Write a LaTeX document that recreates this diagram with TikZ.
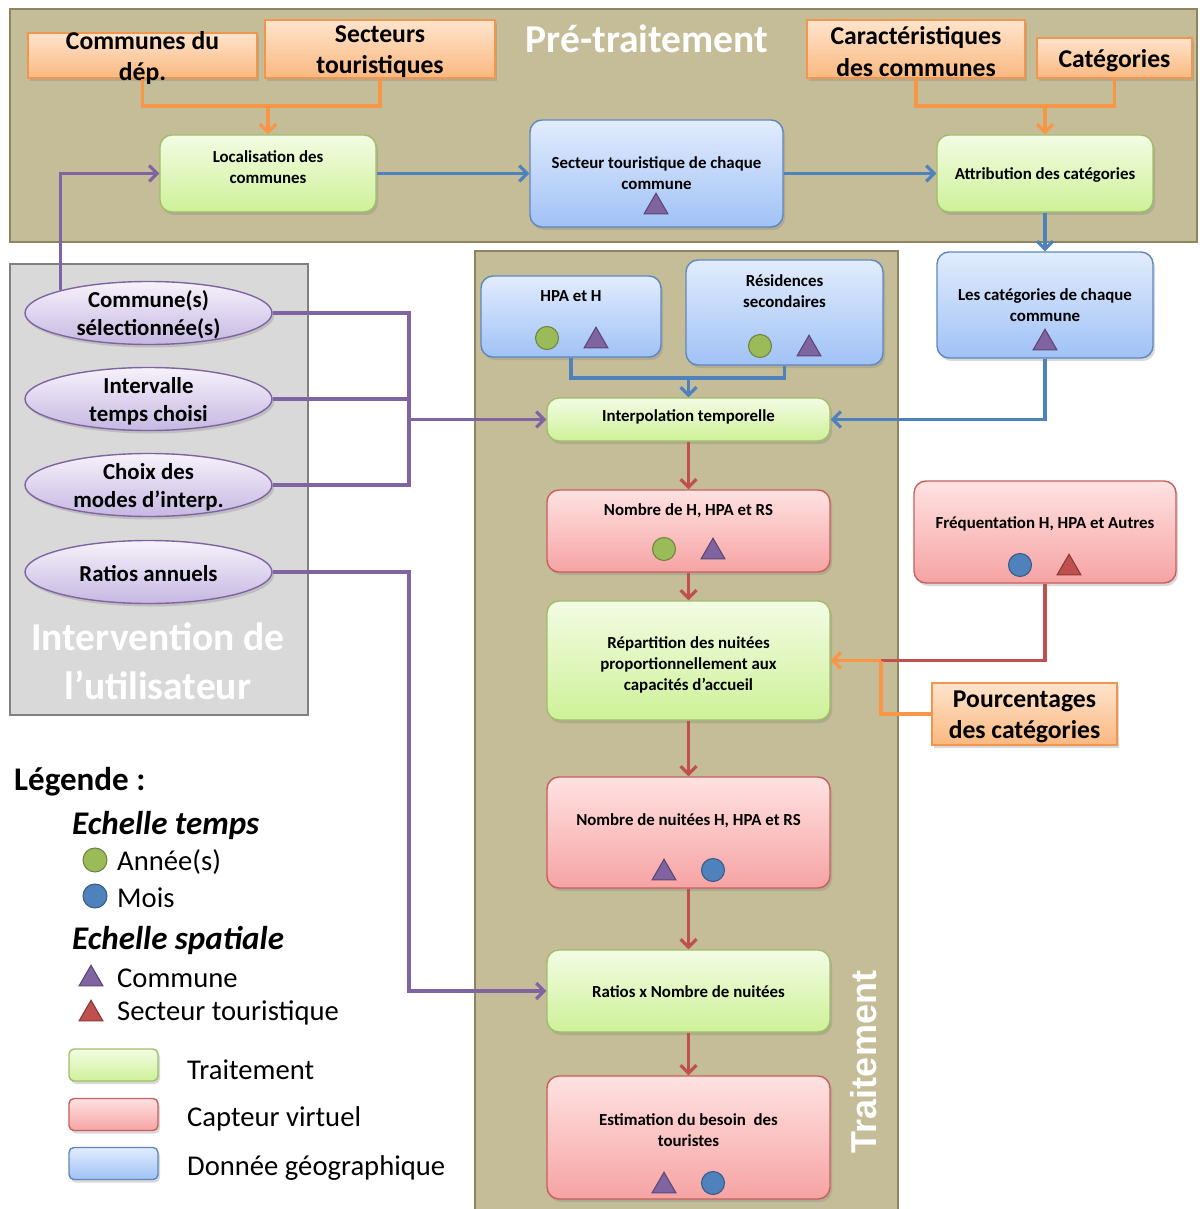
\documentclass[tikz,border=0pt]{standalone}
\usepackage{fontspec}
\setmainfont{Carlito}
\newfontfamily\headfont{Liberation Sans}
\usepackage{xcolor}
\usepackage{tikz}
\usetikzlibrary{shapes,arrows.meta,positioning,calc,shadows,shapes.geometric}

\definecolor{tanbg}{RGB}{196,189,151}
\definecolor{tanline}{RGB}{140,133,96}
\definecolor{greybg}{RGB}{217,217,217}
\definecolor{greyline}{RGB}{128,128,128}
\definecolor{grntop}{RGB}{243,252,228}
\definecolor{grnbot}{RGB}{206,241,152}
\definecolor{grnline}{RGB}{160,190,105}
\definecolor{blutop}{RGB}{226,236,253}
\definecolor{blubot}{RGB}{160,194,246}
\definecolor{bluline}{RGB}{95,135,190}
\definecolor{redtop}{RGB}{255,226,226}
\definecolor{redbot}{RGB}{246,163,163}
\definecolor{redline}{RGB}{200,95,92}
\definecolor{orgtop}{RGB}{255,228,204}
\definecolor{orgbot}{RGB}{250,184,128}
\definecolor{orgline}{RGB}{240,150,80}
\definecolor{purtop}{RGB}{246,242,251}
\definecolor{purbot}{RGB}{198,184,226}
\definecolor{purline}{RGB}{128,100,162}
\definecolor{arrblue}{RGB}{79,129,189}
\definecolor{arrred}{RGB}{192,80,77}
\definecolor{arrpur}{RGB}{128,100,162}
\definecolor{arrorg}{RGB}{247,150,70}
\definecolor{mkgreen}{RGB}{155,187,89}
\definecolor{mkblue}{RGB}{79,129,189}

\begin{document}
\begin{tikzpicture}[x=0.02cm, y=-0.02cm, >={Straight Barb[length=4.5pt,width=9pt]}]
  % Styles
  \tikzset{sz/.style args={#1/#2}{minimum width=#1*0.02cm, minimum height=#2*0.02cm}}
  \tikzstyle{shade} = [drop shadow={opacity=0.3, shadow xshift=0.04cm, shadow yshift=-0.06cm}]
  \tikzstyle{gbox} = [rectangle, rounded corners=0.24cm, draw=grnline, line width=0.8pt, top color=grntop, bottom color=grnbot, shade]
  \tikzstyle{bbox} = [rectangle, rounded corners=0.24cm, draw=bluline, line width=0.8pt, top color=blutop, bottom color=blubot, shade]
  \tikzstyle{rbox} = [rectangle, rounded corners=0.24cm, draw=redline, line width=0.8pt, top color=redtop, bottom color=redbot, shade]
  \tikzstyle{obox} = [rectangle, draw=orgline, line width=0.8pt, top color=orgtop, bottom color=orgbot, shade]
  \tikzstyle{uell} = [ellipse, draw=purline, line width=0.8pt, top color=purtop, bottom color=purbot, shade]
  \tikzstyle{stxt} = [font=\bfseries\fontsize{9.6}{12}\selectfont, align=center]
  \tikzstyle{btxt} = [font=\bfseries\fontsize{14.6}{17.8}\selectfont, align=center, yshift=-0.05cm]
  \tikzstyle{etxt} = [font=\bfseries\fontsize{13}{16}\selectfont, align=center, yshift=-0.04cm]
  \tikzstyle{title} = [font=\bfseries\fontsize{22.5}{27.8}\selectfont, text=white, align=center]
  \tikzstyle{lgtxt} = [font=\fontsize{16.3}{19}\selectfont, anchor=west]
  \tikzstyle{lghead} = [font=\bfseries\itshape\fontsize{18.8}{22}\selectfont, anchor=west]
  \tikzstyle{yr} = [circle, draw=mkgreen!70!black, fill=mkgreen, minimum size=0.46cm, inner sep=0pt, line width=0.6pt]
  \tikzstyle{mo} = [circle, draw=mkblue!70!black, fill=mkblue, minimum size=0.46cm, inner sep=0pt, line width=0.6pt]
  \tikzstyle{com} = [regular polygon, regular polygon sides=3, draw=arrpur!70!black, fill=arrpur, minimum size=0.55cm, inner sep=0pt, line width=0.6pt]
  \tikzstyle{sec} = [regular polygon, regular polygon sides=3, draw=arrred!70!black, fill=arrred, minimum size=0.55cm, inner sep=0pt, line width=0.6pt]
  \tikzstyle{bl} = [draw=arrblue, line width=1.8pt]
  \tikzstyle{rd} = [draw=arrred, line width=1.8pt]
  \tikzstyle{pu} = [draw=arrpur, line width=1.8pt]
  \tikzstyle{og} = [draw=arrorg, line width=1.8pt]

  \useasboundingbox (0,0) rectangle (1199,1209);

  % Panels
  \filldraw[fill=tanbg, draw=tanline, line width=1.6pt] (10,9) rectangle (1197,242);
  \filldraw[fill=greybg, draw=greyline, line width=1.6pt] (10,264) rectangle (308,715);
  \filldraw[fill=tanbg, draw=tanline, line width=1.6pt] (475,251) rectangle (898,1230);
  \node[title, anchor=base] (preT) at (647,53) {Pré-traitement};
  \node[title] (userT) at (158,661) {Intervention de\\l’utilisateur};
  \node[title, font=\headfont\bfseries\fontsize{20.5}{24}\selectfont, rotate=90] (traitT) at (864,1062) {Traitement};

  % Pre-traitement
  \node[obox, sz=229/45, label={[btxt]center:{Communes du\\dép.}}] (comm) at (142.5,55.5) {};
  \node[obox, sz=230/58, label={[btxt]center:{Secteurs\\touristiques}}] (secs) at (380,49) {};
  \node[obox, sz=218/58, label={[btxt]center:{Caractéristiques\\des communes}}] (car) at (916,49) {};
  \node[obox, sz=155/40, label={[btxt]center:{Catégories}}] (catg) at (1114.5,58) {};
  \node[gbox, sz=216/77, label={[stxt,yshift=0.13cm]center:{Localisation des\\communes}}] (loc) at (268,173.5) {};
  \node[bbox, sz=253/107, label={[stxt]center:{Secteur touristique de chaque\\commune}}] (sect) at (656.5,173.5) {};
  \node[com] (sectM) at (656,207) {};
  \node[gbox, sz=216/77, label={[stxt,yshift=-0.03cm]center:{Attribution des catégories}}] (attr) at (1045,173.5) {};

  % Intervention de l'utilisateur
  \node[uell, sz=247/63, label={[etxt]center:{Commune(s)\\sélectionnée(s)}}] (ell1) at (148.5,313) {};
  \node[uell, sz=247/63, label={[etxt]center:{Intervalle\\temps choisi}}] (ell2) at (148.5,399) {};
  \node[uell, sz=247/63, label={[etxt]center:{Choix des\\modes d’interp.}}] (ell3) at (148.5,485) {};
  \node[uell, sz=247/63, label={[etxt]center:{Ratios annuels}}] (ell4) at (148.5,572) {};

  % Traitement
  \node[bbox, sz=216/106, label={[stxt]center:{Les catégories de chaque\\commune}}] (cat) at (1045,305) {};
  \node[com] (catM) at (1045,343) {};
  \node[bbox, sz=180/81, label={[stxt,yshift=0.41cm]center:{HPA et H}}] (hpa) at (571,316.5) {};
  \node[yr] (hpaY) at (547,338) {};
  \node[com] (hpaM) at (596,341) {};
  \node[bbox, sz=197/105, label={[stxt,yshift=0.42cm]center:{Résidences\\secondaires}}] (res) at (784.5,312.5) {};
  \node[yr] (resY) at (760,346) {};
  \node[com] (resM) at (809,349) {};
  \node[gbox, sz=283/43, label={[stxt,yshift=0.06cm]center:{Interpolation temporelle}}] (interp) at (688.5,419.5) {};
  \node[rbox, sz=283/82, label={[stxt,yshift=0.4cm]center:{Nombre de H, HPA et RS}}] (nbH) at (688.5,531) {};
  \node[yr] (nbHY) at (664,549) {};
  \node[com] (nbHM) at (713,552) {};
  \node[gbox, sz=283/119, label={[stxt,yshift=-0.09cm]center:{Répartition des nuitées\\proportionnellement aux\\capacités d’accueil}}] (rep) at (688.5,660.5) {};
  \node[rbox, sz=262/102, label={[stxt,yshift=0.16cm]center:{Fréquentation H, HPA et Autres}}] (freq) at (1045,532) {};
  \node[mo] (freqM) at (1020,565) {};
  \node[sec] (freqS) at (1069,568) {};
  \node[obox, sz=185/62, label={[btxt]center:{Pourcentages\\des catégories}}] (pourc) at (1024.5,714) {};
  \node[rbox, sz=283/111, label={[stxt,yshift=0.23cm]center:{Nombre de nuitées H, HPA et RS}}] (nuit) at (688.5,832.5) {};
  \node[com] (nuitM) at (664,873) {};
  \node[mo] (nuitO) at (713,870) {};
  \node[gbox, sz=283/82, label={[stxt,yshift=-0.02cm]center:{Ratios x Nombre de nuitées}}] (ratio) at (688.5,991) {};
  \node[rbox, sz=283/123, label={[stxt,yshift=0.15cm]center:{Estimation du besoin~ des\\touristes}}] (est) at (688.5,1137.5) {};
  \node[com] (estM) at (664,1186) {};
  \node[mo] (estO) at (713,1183) {};

  % Legende
  \node[font=\bfseries\fontsize{18.8}{22}\selectfont, anchor=west] (lg) at (8,782) {Légende :};
  \node[lghead] (lgT) at (66,825) {Echelle temps};
  \node[yr, minimum size=0.48cm] (lgY) at (95,860) {};
  \node[lgtxt] (lgYt) at (111,862) {Année(s)};
  \node[mo, minimum size=0.48cm] (lgM) at (95,896) {};
  \node[lgtxt] (lgMt) at (111,898) {Mois};
  \node[lghead] (lgS) at (66,940) {Echelle spatiale};
  \node[com] (lgC) at (91,979) {};
  \node[lgtxt] (lgCt) at (111,978) {Commune};
  \node[sec] (lgR) at (91,1014) {};
  \node[lgtxt] (lgRt) at (111,1013) {Secteur touristique};
  \node[gbox, rounded corners=0.1cm, sz=89/32] (lgG) at (113.5,1065) {};
  \node[lgtxt] (lgGt) at (181,1070) {Traitement};
  \node[rbox, rounded corners=0.1cm, sz=89/32] (lgV) at (113.5,1114.5) {};
  \node[lgtxt] (lgVt) at (181,1119) {Capteur virtuel};
  \node[bbox, rounded corners=0.1cm, sz=89/32] (lgB) at (113.5,1163.5) {};
  \node[lgtxt] (lgBt) at (181,1168) {Donnée géographique};

  % Paths / Edges
  \coordinate (jA) at (268,106);
  \coordinate (jB) at (1045,106);
  \draw[og] (comm.south) |- (jA) -| (secs.south);
  \draw[og, ->] (jA) -- (loc.north);
  \draw[og] (car.south) |- (jB) -| (catg.south);
  \draw[og, ->] (jB) -- (attr.north);
  \draw[bl, ->] (loc) -- (sect);
  \draw[bl, ->] (sect) -- (attr);
  \draw[bl, ->] (attr) -- (cat);

  \draw[pu, ->] (ell1.north west) |- (loc.west);
  \coordinate (jC) at (409,419.5);
  \draw[pu] (ell1.east) -| (jC);
  \draw[pu] (ell3.east) -| (jC);
  \draw[pu] (ell2.east) -- (ell2.east -| jC);
  \draw[pu, ->] (jC) -- (interp.west);
  \draw[pu, ->] (ell4.east) -| (jC |- ratio.west) -- (ratio.west);

  \coordinate (jD) at (688.5,378);
  \draw[bl] (hpa.south) |- (jD) -| (res.south);
  \draw[bl, ->] (jD) -- (interp.north);
  \draw[bl, ->] (cat.south) |- (interp.east);

  \draw[rd, ->] (interp) -- (nbH);
  \draw[rd, ->] (nbH) -- (rep);
  \draw[rd, ->] (rep) -- (nuit);
  \draw[rd, ->] (nuit) -- (ratio);
  \draw[rd, ->] (ratio) -- (est);

  \coordinate (jE) at (881,660.5);
  \draw[rd] (freq.south) |- (jE);
  \draw[og] (pourc.west) -| (jE);
  \draw[og, ->] (jE) -- (rep.east);

\end{tikzpicture}
\end{document}
